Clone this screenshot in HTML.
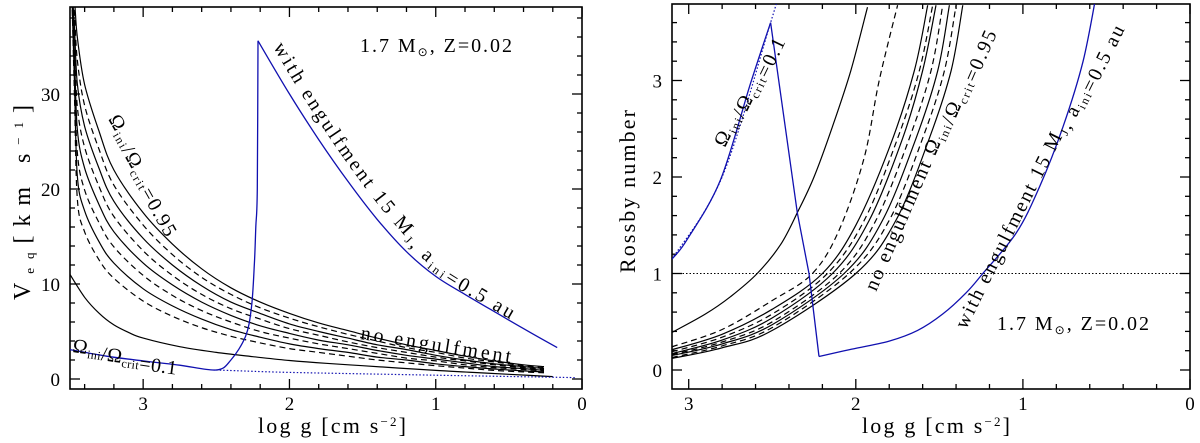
<!DOCTYPE html>
<html><head><meta charset="utf-8">
<style>
html,body{margin:0;padding:0;background:#fff;}
svg{display:block;}
text{font-family:"Liberation Serif",serif;}
</style></head>
<body>
<svg id="chart" width="1200" height="443" viewBox="0 0 1200 443" xmlns="http://www.w3.org/2000/svg">
<defs>
<clipPath id="clipL"><rect x="70" y="7" width="512" height="382"/></clipPath>
<clipPath id="clipR"><rect x="672" y="4" width="518" height="385"/></clipPath>
</defs>
<g id="left"></g>
<g id="right"></g>
</svg>
<script>
// ---------- LEFT PANEL DATA (V_eq vs log g) ----------
const leftGrid = [3.49,3.47,3.45,3.4,3.3,3.2,3.0,2.8,2.6,2.4,2.2,2.0,1.8,1.6,1.4,1.2,1.0,0.8,0.6,0.4,0.26];
const vC1 = [42,40,36,31,26,22,17.5,14.2,11.6,9.6,8.1,6.9,5.9,5.1,4.3,3.6,3.0,2.4,1.9,1.5,1.3];
const vC2 = [42,38.6,33.6,28.8,24.1,20.4,16.2,13.1,10.7,8.9,7.5,6.4,5.5,4.7,4.0,3.3,2.8,2.2,1.8,1.4,1.2];
const vC3 = [42,37.1,31.1,26.6,22.1,18.7,14.8,12.0,9.8,8.1,6.9,5.8,5.0,4.3,3.6,3.1,2.5,2.0,1.6,1.3,1.1];
const vC4 = [42,35.7,28.7,24.4,20.2,17.1,13.5,10.9,8.9,7.4,6.3,5.3,4.6,3.9,3.3,2.8,2.3,1.9,1.5,1.2,1.0];
const vC5 = [42,34.3,26.3,22.2,18.3,15.5,12.2,9.9,8.1,6.7,5.6,4.8,4.1,3.6,3.0,2.5,2.1,1.7,1.3,1.1,0.9];
const vC6 = [42,32.9,23.9,19.9,16.4,13.9,10.9,8.8,7.2,6.0,5.0,4.3,3.7,3.2,2.7,2.2,1.9,1.5,1.2,1.0,0.85];
const vC7 = [42,31.4,21.4,17.7,14.4,12.2,9.5,7.7,6.3,5.2,4.4,3.7,3.2,2.8,2.3,2.0,1.6,1.3,1.05,0.85,0.75];
const vC8 = [42,30,19,15.5,12.5,10.6,8.2,6.6,5.4,4.5,3.8,3.2,2.8,2.4,2.0,1.7,1.4,1.15,0.9,0.75,0.65];
const vSlowG = [3.5,3.4,3.3,3.2,3.1,3.0,2.75,2.5,2.25,2.0,1.75,1.5,1.25,1.0,0.75,0.5,0.2];
const vSlow = [11,8.6,6.9,5.7,4.9,4.3,3.4,2.8,2.35,1.95,1.65,1.4,1.15,0.9,0.7,0.5,0.25];
const vBlueG = [3.5,3.25,3.0,2.75,2.5,2.4,2.3,2.26,2.24,2.23,2.22,2.215];
const vBlue = [3.1,2.4,1.9,1.45,0.95,2.0,4.5,7.5,12,16,20,35.6];
const vBlue2G = [2.215,2.0,1.8,1.6,1.4,1.2,1.0,0.8,0.6,0.4,0.17];
const vBlue2 = [35.6,30.0,25.2,20.8,16.8,13.4,10.8,8.9,7.1,5.3,3.3];
const vDotG = [2.5,2.0,1.0,0.05];
const vDot = [0.95,0.7,0.4,0.15];
const leftXTicks = [3,2,1,0];
const leftYTicks = [0,10,20,30];

// ---------- RIGHT PANEL DATA (Rossby number vs log g) ----------
const rSlowG = [3.1,2.9,2.75,2.59,2.45,2.35,2.25,2.14,2.03,1.93];
const rSlow = [0.39,0.58,0.76,1.0,1.3,1.63,2.0,2.52,3.1,3.76];
const rG1 = [3.1,2.8,2.5,2.26,2.1,1.95,1.86,1.75]; const rC1 = [0.24,0.42,0.72,1.0,1.45,2.2,3.0,3.78];
const rG2 = [3.1,2.8,2.5,2.2,2.0,1.8,1.65,1.57];   const rC2 = [0.21,0.37,0.63,1.0,1.5,2.3,3.1,3.78];
const rG3 = [3.1,2.8,2.5,2.17,1.95,1.75,1.62,1.54]; const rC3 = [0.19,0.34,0.58,1.0,1.55,2.4,3.1,3.78];
const rG4 = [3.1,2.8,2.5,2.14,1.92,1.72,1.6,1.52];  const rC4 = [0.17,0.31,0.54,1.0,1.55,2.4,3.1,3.78];
const rG5 = [3.1,2.8,2.5,2.1,1.88,1.68,1.55,1.48];  const rC5 = [0.16,0.29,0.5,1.0,1.55,2.4,3.1,3.78];
const rG6 = [3.1,2.8,2.5,2.07,1.84,1.64,1.51,1.44]; const rC6 = [0.15,0.27,0.47,1.0,1.55,2.4,3.1,3.78];
const rG7 = [3.1,2.8,2.5,2.04,1.8,1.6,1.47,1.40];   const rC7 = [0.13,0.25,0.44,1.0,1.55,2.4,3.1,3.78];
const rG8 = [3.1,2.8,2.5,2.0,1.76,1.56,1.43,1.36];  const rC8 = [0.12,0.23,0.41,1.0,1.55,2.4,3.1,3.78];
const rBlueUpG = [3.1,3.01,2.81,2.63,2.51];
const rBlueUp = [1.15,1.35,1.97,2.97,3.6];
const rBlueDownG = [2.51,2.35,2.28,2.22];
const rBlueDown = [3.6,1.63,1.0,0.14];
const rBlueEngG = [2.22,2.04,1.8,1.63,1.48,1.34,1.24,1.04,0.90,0.76,0.64,0.56];
const rBlueEng = [0.14,0.21,0.30,0.41,0.58,0.80,1.0,1.42,1.9,2.52,3.2,3.9];
const rDotG = [3.1,2.8,2.51,2.46];
const rDot = [1.15,2.0,3.6,3.9];
const rightXTicks = [3,2,1,0];
const rightYTicks = [0,1,2,3];

const NS = "http://www.w3.org/2000/svg";
const BLUE = "#1010b0";
const FONT = '"Liberation Serif", serif';
function mk(tag, attrs, parent){ const e=document.createElementNS(NS,tag); for(const k in attrs) e.setAttribute(k,attrs[k]); if(parent) parent.appendChild(e); return e; }

const LX = v => 70 + (3.5 - v) * 146.3;
const LY = v => 379 - v * 9.5;
const RX = v => 672 + (3.1 - v) * 167.1;
const RY = v => 370 - v * 96.5;

function smoothPath(pts){
  if(pts.length<3) return "M"+pts.map(p=>p[0].toFixed(1)+","+p[1].toFixed(1)).join(" L");
  let d="M"+pts[0][0].toFixed(1)+","+pts[0][1].toFixed(1);
  for(let i=0;i<pts.length-1;i++){
    const p0=pts[Math.max(0,i-1)],p1=pts[i],p2=pts[i+1],p3=pts[Math.min(pts.length-1,i+2)];
    const c1=[p1[0]+(p2[0]-p0[0])/6,p1[1]+(p2[1]-p0[1])/6];
    const c2=[p2[0]-(p3[0]-p1[0])/6,p2[1]-(p3[1]-p1[1])/6];
    d+=" C"+c1[0].toFixed(1)+","+c1[1].toFixed(1)+" "+c2[0].toFixed(1)+","+c2[1].toFixed(1)+" "+p2[0].toFixed(1)+","+p2[1].toFixed(1);
  }
  return d;
}
function series(parent, xs, ys, fx, fy, style, clip, smooth){
  const pts = xs.map((x,i)=>[fx(x), fy(ys[i])]);
  const d = smooth===false ? "M"+pts.map(p=>p[0].toFixed(1)+","+p[1].toFixed(1)).join(" L") : smoothPath(pts);
  return mk("path", Object.assign({d:d, fill:"none", "clip-path":"url(#"+clip+")"}, style), parent);
}
function frame(parent, x0,y0,x1,y1, xmaj, xmin, fx, ymaj, ymin, fy){
  const r = mk("rect",{x:x0,y:y0,width:x1-x0,height:y1-y0,fill:"none",stroke:"#000","stroke-width":1.6},parent);
  
  
  xmin.forEach(v=>{const x=fx(v); const L=xmaj.includes(v)?10:5;
    mk("line",{x1:x,y1:y1,x2:x,y2:y1-L,stroke:"#000","stroke-width":1.3},parent);
    mk("line",{x1:x,y1:y0,x2:x,y2:y0+L,stroke:"#000","stroke-width":1.3},parent);});
  ymin.forEach(v=>{const y=fy(v); const L=ymaj.includes(v)?10:5;
    mk("line",{x1:x0,y1:y,x2:x0+L,y2:y,stroke:"#000","stroke-width":1.3},parent);
    mk("line",{x1:x1,y1:y,x2:x1-L,y2:y,stroke:"#000","stroke-width":1.3},parent);});
}
function txt(parent, x, y, html, attrs, name){
  const t = mk("text", Object.assign({x:x,y:y,"font-size":18,fill:"#000","font-family":FONT}, attrs||{}), parent);
  t.innerHTML = html;
  
  
  return t;
}
const sub = s => '<tspan dy="4" font-size="12">'+s+'</tspan><tspan dy="-4"></tspan>';
const OMG = 'Ω'+sub('ini')+'/Ω'+sub('crit')+'=';
const SUP2 = 'log g [cm s<tspan dy="-7" font-size="13">−2</tspan><tspan dy="7">]</tspan>';
const MSUN = '1.7 M<tspan dy="4" font-size="12">⊙</tspan><tspan dy="-4">, Z=0.02</tspan>';

// ---------- LEFT ----------
const gl = document.getElementById("left");
const lxMinor=[]; for(let v=3.4; v>=0-1e-9; v-=0.2) lxMinor.push(Math.round(v*10)/10);
[3,2,1,0].forEach(v=>{ if(!lxMinor.includes(v)) lxMinor.push(v); });
const lyMinor=[]; for(let v=0; v<=38; v+=2) lyMinor.push(v);
frame(gl,70,7,582,389,leftXTicks,lxMinor,LX,leftYTicks,lyMinor,LY);
leftXTicks.forEach(v=>txt(gl,LX(v),410,String(v),{"text-anchor":"middle","font-size":19},"x-tick-label-left"));
leftYTicks.forEach(v=>txt(gl,60,LY(v)+7,String(v),{"text-anchor":"end","font-size":19},"y-tick-label-left"));
txt(gl,258,433,SUP2,{"font-size":22,textLength:148,lengthAdjust:"spacing"},"x-axis-title-left");
txt(gl,0,0,'V<tspan dy="4" font-size="13">eq</tspan><tspan dy="-4">[km s</tspan><tspan dy="-7" font-size="13">−1</tspan><tspan dy="7">]</tspan>',{"font-size":24,textLength:195,lengthAdjust:"spacing",transform:"translate(30,300) rotate(-90)"},"y-axis-title-left");

const famL=[vC1,vC2,vC3,vC4,vC5,vC6,vC7,vC8];
famL.forEach((arr,i)=>{
  const p=series(gl,leftGrid,arr,LX,LY,{stroke:"#000","stroke-width":1.2,"stroke-dasharray":i%2?"6,4":"none"},"clipL");
  
  
});
let p=series(gl,vSlowG,vSlow,LX,LY,{stroke:"#000","stroke-width":1.2},"clipL");


p=series(gl,vBlueG,vBlue,LX,LY,{stroke:BLUE,"stroke-width":1.3},"clipL");


p=series(gl,vBlue2G,vBlue2,LX,LY,{stroke:BLUE,"stroke-width":1.3},"clipL");


p=series(gl,vDotG,vDot,LX,LY,{stroke:BLUE,"stroke-width":1.2,"stroke-dasharray":"1.5,2"},"clipL");



const offPts = vBlue2G.map((g,i)=>[LX(g)+8, LY(vBlue2[i])-6]);
mk("path",{id:"engL",d:smoothPath(offPts),fill:"none"},document.querySelector("defs"));
const te = mk("text",{"font-size":20,fill:"#000","font-family":FONT},gl);


te.innerHTML='<textPath href="#engL" startOffset="14" textLength="365" lengthAdjust="spacing">with engulfment 15 M'+sub('J')+', a'+sub('ini')+'=0.5 au</textPath>';

txt(gl,360,52,MSUN,{"font-size":20,textLength:152,lengthAdjust:"spacing"},"model-label-left");
txt(gl,0,0,OMG+'0.95',{"font-size":20,textLength:132,lengthAdjust:"spacing",transform:"translate(108,119) rotate(60.5)"},"omega-095-label-left");
txt(gl,0,0,'no engulfment',{"font-size":20,textLength:152,lengthAdjust:"spacing",transform:"translate(360,339) rotate(9)"},"no-engulfment-label-left");
txt(gl,0,0,OMG+'0.1',{"font-size":20,textLength:106,lengthAdjust:"spacing",transform:"translate(72,352) rotate(8)"},"omega-01-label-left");

// ---------- RIGHT ----------
const gr = document.getElementById("right");
const rxMinor=[]; for(let v=3.0; v>=0-1e-9; v-=0.2) rxMinor.push(Math.round(v*10)/10);
[3,2,1,0].forEach(v=>{ if(!rxMinor.includes(v)) rxMinor.push(v); });
const ryMinor=[]; for(let v=0; v<=3.71; v+=0.2) ryMinor.push(Math.round(v*10)/10);
frame(gr,672,4,1190,389,rightXTicks,rxMinor,RX,rightYTicks,ryMinor,RY);
rightXTicks.forEach(v=>txt(gr,RX(v),410,String(v),{"text-anchor":"middle","font-size":19},"x-tick-label-right"));
rightYTicks.forEach(v=>txt(gr,662,RY(v)+7,String(v),{"text-anchor":"end","font-size":19},"y-tick-label-right"));
txt(gr,862,433,SUP2,{"font-size":22,textLength:148,lengthAdjust:"spacing"},"x-axis-title-right");
txt(gr,0,0,'Rossby number',{"font-size":22,textLength:163,lengthAdjust:"spacing",transform:"translate(635,273) rotate(-90)"},"y-axis-title-right");

const ref = mk("line",{x1:672,x2:1190,y1:RY(1),y2:RY(1),stroke:"#000","stroke-width":1,"stroke-dasharray":"1.5,2"},gr);



const famRG=[rG1,rG2,rG3,rG4,rG5,rG6,rG7,rG8], famR=[rC1,rC2,rC3,rC4,rC5,rC6,rC7,rC8];
famR.forEach((arr,i)=>{
  const q=series(gr,famRG[i],arr,RX,RY,{stroke:"#000","stroke-width":1.2,"stroke-dasharray":i%2?"none":"6,4"},"clipR");
  
  
});
p=series(gr,rSlowG,rSlow,RX,RY,{stroke:"#000","stroke-width":1.2},"clipR");


p=series(gr,rDotG,rDot,RX,RY,{stroke:BLUE,"stroke-width":1.2,"stroke-dasharray":"1.5,2"},"clipR");


p=series(gr,rBlueUpG,rBlueUp,RX,RY,{stroke:BLUE,"stroke-width":1.3},"clipR");


p=series(gr,rBlueDownG,rBlueDown,RX,RY,{stroke:BLUE,"stroke-width":1.3},"clipR",false);


p=series(gr,rBlueEngG,rBlueEng,RX,RY,{stroke:BLUE,"stroke-width":1.3},"clipR");



txt(gr,0,0,OMG+'0.1',{"font-size":20,textLength:122,lengthAdjust:"spacing",transform:"translate(725,148) rotate(-64)"},"omega-01-label-right");
txt(gr,0,0,'no engulfment '+OMG+'0.95',{"font-size":20,textLength:285,lengthAdjust:"spacing",transform:"translate(876,292) rotate(-66.5)"},"no-engulfment-label-right");
txt(gr,0,0,'with engulfment 15 M'+sub('J')+', a'+sub('ini')+'=0.5 au',{"font-size":20,textLength:340,lengthAdjust:"spacing",transform:"translate(966,330) rotate(-63.5)"},"engulfment-label-right");
txt(gr,997,330,MSUN,{"font-size":20,textLength:152,lengthAdjust:"spacing"},"model-label-right");
</script>
</body></html>
